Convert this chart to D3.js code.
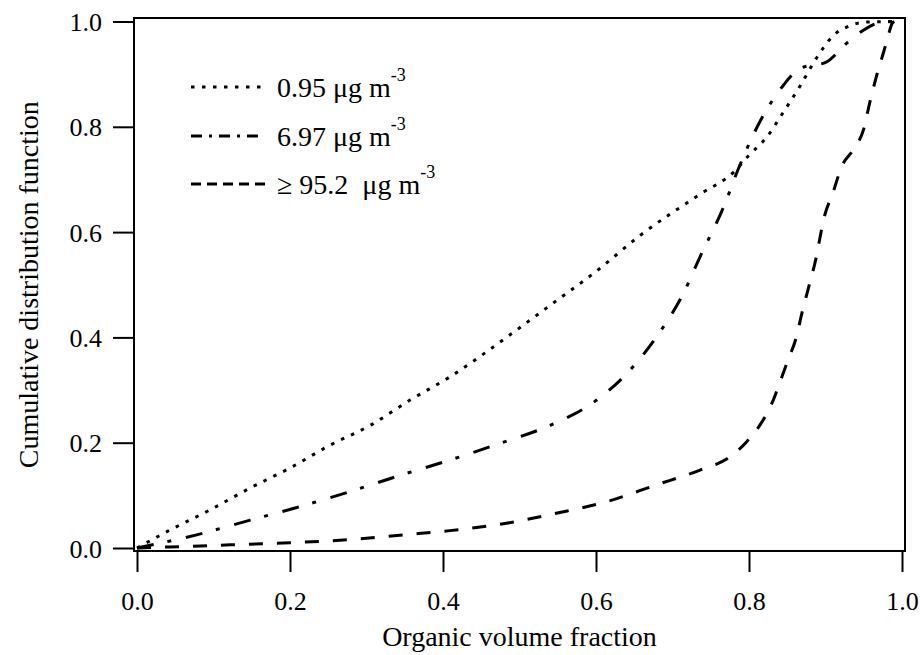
<!DOCTYPE html>
<html>
<head>
<meta charset="utf-8">
<script src="https://cdn.jsdelivr.net/npm/d3@7"></script>
<style>
  body { margin: 0; background: #fff; }
</style>
</head>
<body>
<svg id="chart" width="920" height="655"></svg>
<script>
// organic volume fraction / CDF
const lowX  = [0, 0.043, 0.095, 0.148, 0.2, 0.252, 0.305, 0.357, 0.409, 0.483, 0.54, 0.599, 0.658, 0.736, 0.78, 0.8, 0.823, 0.845, 0.867, 0.888, 0.91, 0.932, 0.954, 0.99];
const lowY  = [0, 0.034, 0.072, 0.114, 0.152, 0.195, 0.233, 0.281, 0.325, 0.4, 0.461, 0.524, 0.594, 0.672, 0.714, 0.746, 0.78, 0.828, 0.878, 0.93, 0.973, 0.992, 0.999, 1.0];

const midX  = [0, 0.078, 0.148, 0.209, 0.278, 0.344, 0.409, 0.475, 0.54, 0.601, 0.64, 0.679, 0.714, 0.736, 0.766, 0.788, 0.814, 0.845, 0.867, 0.901, 0.927, 0.949, 0.971, 0.99];
const midY  = [0, 0.025, 0.053, 0.077, 0.107, 0.138, 0.167, 0.199, 0.233, 0.281, 0.331, 0.401, 0.483, 0.553, 0.645, 0.727, 0.809, 0.879, 0.911, 0.923, 0.958, 0.983, 0.998, 1.0];

const highX = [0, 0.043, 0.122, 0.2, 0.278, 0.348, 0.409, 0.483, 0.548, 0.614, 0.679, 0.736, 0.775, 0.797, 0.814, 0.83, 0.84, 0.851, 0.862, 0.869, 0.877, 0.886, 0.899, 0.91, 0.921, 0.937, 0.95, 0.958, 0.967, 0.976, 0.982, 0.987, 0.99];
const highY = [0, 0.002, 0.006, 0.01, 0.016, 0.025, 0.033, 0.047, 0.066, 0.088, 0.12, 0.148, 0.173, 0.202, 0.233, 0.275, 0.313, 0.357, 0.401, 0.445, 0.49, 0.54, 0.632, 0.676, 0.724, 0.758, 0.796, 0.847, 0.898, 0.942, 0.973, 0.996, 1.0];

const seriesNames = ["0.95 \u03bcg m", "6.97 \u03bcg m", "\u2265 95.2\u2002\u03bcg m"];
const xTicks = [0, 0.2, 0.4, 0.6, 0.8, 1.0];
const yTicks = [0, 0.2, 0.4, 0.6, 0.8, 1.0];

const FONT = "'Liberation Serif', 'Times New Roman', serif";
const svg = d3.select("#chart");

const x = d3.scaleLinear().domain([0, 1]).range([137, 902]);
const y = d3.scaleLinear().domain([0, 1]).range([548, 21.5]);

// frame
svg.append("rect")
  .attr("x", 134).attr("y", 18)
  .attr("width", 905 - 134).attr("height", 551 - 18)
  .attr("fill", "none").attr("stroke", "#000").attr("stroke-width", 2);

const xAxis = svg.append("g")
  .attr("transform", "translate(0,551)")
  .call(d3.axisBottom(x).tickValues(xTicks).tickFormat(d3.format(".1f")).tickSize(21).tickPadding(20));
const yAxis = svg.append("g")
  .attr("transform", "translate(134,0)")
  .call(d3.axisLeft(y).tickValues(yTicks).tickFormat(d3.format(".1f")).tickSize(21).tickPadding(11));

[xAxis, yAxis].forEach((g) => {
  g.select(".domain").remove();
  g.selectAll(".tick line").attr("stroke", "#000").attr("stroke-width", 2);
  g.selectAll(".tick text").attr("fill", "#000")
    .style("font-family", FONT).style("font-size", "26px");
});
yAxis.selectAll(".tick text").attr("dy", "0.35em");

// axis titles
svg.append("text")
  .attr("x", (x(0) + x(1)) / 2).attr("y", 646)
  .attr("text-anchor", "middle")
  .style("font-family", FONT).style("font-size", "28px")
  .text("Organic volume fraction");

svg.append("text")
  .attr("transform", "translate(38," + (y(0) + y(1)) / 2 + ") rotate(-90)")
  .attr("text-anchor", "middle")
  .style("font-family", FONT).style("font-size", "28px")
  .text("Cumulative distribution function");

const series = [
  { name: seriesNames[0], xs: lowX, ys: lowY, dash: "3.5,7.5", legendDash: "3.5,7.5" },
  { name: seriesNames[1], xs: midX, ys: midY, dash: "17,14,4,15", legendDash: "11,7,3,7" },
  { name: seriesNames[2], xs: highX, ys: highY, dash: "14,14", legendDash: "10,6" },
];

const line = d3.line()
  .x((d) => x(d[0]))
  .y((d) => y(d[1]))
  .curve(d3.curveMonotoneX);

svg.append("g")
  .selectAll("path")
  .data(series)
  .enter()
  .append("path")
  .attr("d", (s) => line(s.xs.map((v, i) => [v, s.ys[i]])))
  .attr("fill", "none")
  .attr("stroke", "#000")
  .attr("stroke-width", 3)
  .attr("stroke-dasharray", (s) => s.dash);

// legend
const LEGEND_X = 191;
const LEGEND_LINE = 74;
const LEGEND_ROWS = [87, 136, 184];

const legendItem = svg.append("g")
  .selectAll("g")
  .data(series)
  .enter()
  .append("g")
  .attr("transform", (d, i) => "translate(" + LEGEND_X + "," + LEGEND_ROWS[i] + ")");

legendItem.append("line")
  .attr("x1", 0).attr("x2", LEGEND_LINE)
  .attr("stroke", "#000").attr("stroke-width", 3)
  .attr("stroke-dasharray", (d) => d.legendDash);

const label = legendItem.append("text")
  .attr("x", 86).attr("y", 10)
  .style("font-family", FONT).style("font-size", "28px");
label.append("tspan").text((d) => d.name);
label.append("tspan").attr("dy", -16).style("font-size", "18px").text("-3");
</script>
</body>
</html>
